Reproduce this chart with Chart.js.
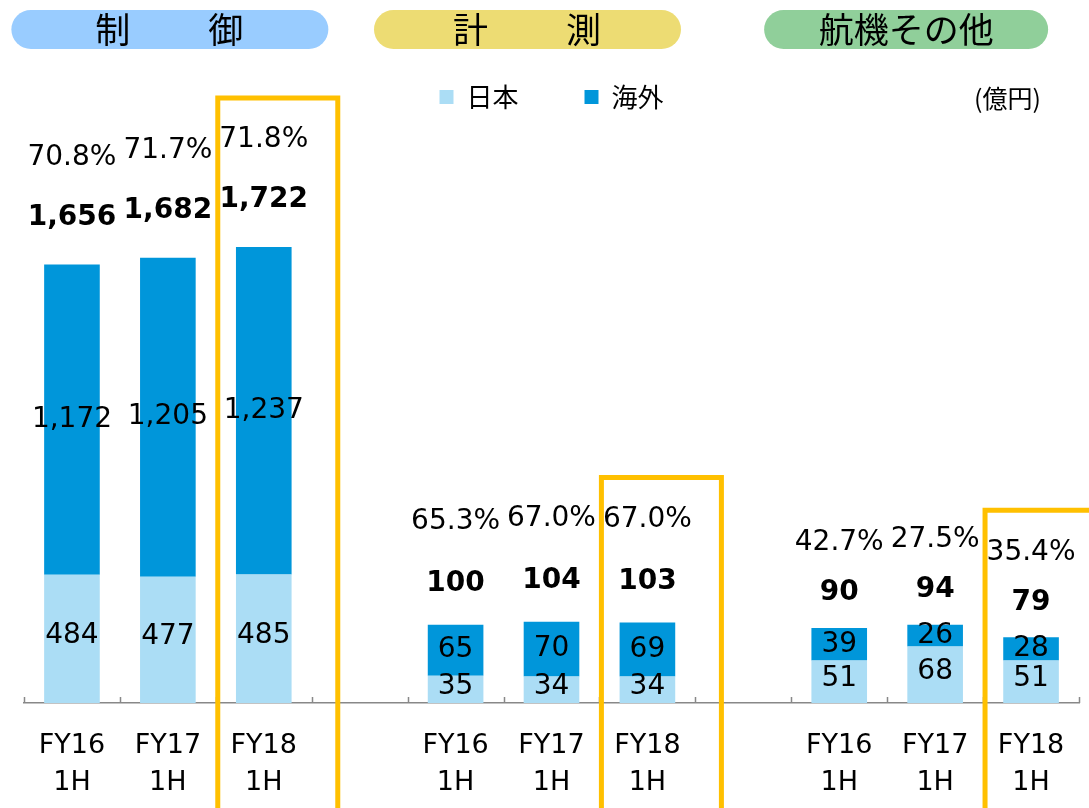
<!DOCTYPE html>
<html>
<head>
<meta charset="utf-8">
<script src="https://cdn.jsdelivr.net/npm/chart.js@4"></script>
<style>
  html, body { margin: 0; padding: 0; background: #fff; }
  #wrap { width: 1089px; height: 808px; }
</style>
</head>
<body>
<div id="wrap"><canvas id="salesChart"></canvas></div>
<script>
// segments and periods
var segmentNames = ['制御', '計測', '航機その他'];
var periodLabels = [['FY16', '1H'], ['FY17', '1H'], ['FY18', '1H']];

// 制御
var japanCtrl = [484, 477, 485];
var overseasCtrl = [1172, 1205, 1237];
var ratioCtrl = [70.8, 71.7, 71.8];
// 計測
var japanMeas = [35, 34, 34];
var overseasMeas = [65, 70, 69];
var ratioMeas = [65.3, 67.0, 67.0];
// 航機その他
var japanAero = [51, 68, 51];
var overseasAero = [39, 26, 28];
var ratioAero = [42.7, 27.5, 35.4];

var japanBySeg = [japanCtrl, japanMeas, japanAero];
var overseasBySeg = [overseasCtrl, overseasMeas, overseasAero];
var ratioBySeg = [ratioCtrl, ratioMeas, ratioAero];
var axisIds = ['yCtrl', 'yMeas', 'yAero'];

var LIGHT = '#ABDDF5';
var DARK = '#0096DA';
var HILITE = '#FFC000';
var AXIS = '#888';
var NUM_FONT = '"DejaVu Sans", Verdana, sans-serif';
var JP_FONT = '"Noto Sans CJK JP", sans-serif';

// 3 bars per segment, one empty slot between segments
var labels = [];
segmentNames.forEach(function (name, g) {
    periodLabels.forEach(function (p) { labels.push(p); });
    if (g < segmentNames.length - 1) labels.push('');
});

function spread(values, g) {
    var out = labels.map(function () { return null; });
    values.forEach(function (v, i) { out[g * 4 + i] = v; });
    return out;
}

function fmt(n) {
    return n.toLocaleString('en-US');
}

var datasets = [];
segmentNames.forEach(function (name, g) {
    datasets.push({
        label: '日本',
        data: spread(japanBySeg[g], g),
        backgroundColor: LIGHT,
        yAxisID: axisIds[g]
    });
    datasets.push({
        label: '海外',
        data: spread(overseasBySeg[g], g),
        backgroundColor: DARK,
        yAxisID: axisIds[g]
    });
});

// label offsets above the bar tops, per segment
var labelGap = [{ total: 47, pct: 60 }, { total: 41, pct: 62 }, { total: 35, pct: 50 }];
var pillStyle = [
    { color: '#99CCFF', shift: 2, width: 317 },
    { color: '#EDDC73', shift: -24, width: 307 },
    { color: '#90CF9A', shift: -29, width: 284 }
];

var annotate = {
    id: 'annotate',
    afterDatasetsDraw: function (chart) {
        var ctx = chart.ctx;
        ctx.save();
        ctx.fillStyle = '#000';
        ctx.textAlign = 'center';
        ctx.textBaseline = 'middle';
        for (var g = 0; g < 3; g++) {
            var lowMeta = chart.getDatasetMeta(g * 2);
            var highMeta = chart.getDatasetMeta(g * 2 + 1);
            for (var i = 0; i < 3; i++) {
                var c = g * 4 + i;
                var low = lowMeta.data[c];
                var high = highMeta.data[c];
                ctx.font = '28px ' + NUM_FONT;
                ctx.fillText(fmt(japanBySeg[g][i]), low.x, (low.y + low.base) / 2 - 3);
                ctx.fillText(fmt(overseasBySeg[g][i]), high.x, (high.y + high.base) / 2);
                var totalY = high.y - labelGap[g].total;
                ctx.font = 'bold 28px ' + NUM_FONT;
                ctx.fillText(fmt(japanBySeg[g][i] + overseasBySeg[g][i]), high.x, totalY);
                ctx.font = '28px ' + NUM_FONT;
                ctx.fillText(ratioBySeg[g][i].toFixed(1) + '%', high.x, totalY - labelGap[g].pct);
            }
        }
        ctx.restore();
    },
    afterDraw: function (chart) {
        var ctx = chart.ctx;
        var x = chart.scales.x;
        var area = chart.chartArea;
        ctx.save();
        // small upward tick marks between categories
        var step = (area.right - area.left) / labels.length;
        ctx.strokeStyle = AXIS;
        ctx.lineWidth = 1.5;
        ctx.beginPath();
        for (var k = 0; k <= labels.length; k++) {
            var tx = Math.round(area.left + k * step) + 0.5;
            ctx.moveTo(tx, area.bottom);
            ctx.lineTo(tx, area.bottom - 6);
        }
        ctx.stroke();
        // segment title pills
        for (var g = 0; g < 3; g++) {
            var cx = (x.getPixelForValue(g * 4) + x.getPixelForValue(g * 4 + 2)) / 2 + pillStyle[g].shift;
            var w = pillStyle[g].width;
            ctx.fillStyle = pillStyle[g].color;
            ctx.beginPath();
            ctx.roundRect(cx - w / 2, 10, w, 39, 19.5);
            ctx.fill();
            ctx.fillStyle = '#000';
            ctx.textAlign = 'center';
            ctx.textBaseline = 'middle';
            ctx.font = '35px ' + JP_FONT;
            var name = segmentNames[g];
            if (name.length === 2) {
                ctx.fillText(name[0], cx - 57, 30);
                ctx.fillText(name[1], cx + 56, 30);
            } else {
                ctx.fillText(name, cx, 30);
            }
        }
        // unit
        ctx.font = '25px ' + JP_FONT;
        ctx.textAlign = 'right';
        ctx.fillText('(億円)', 1041, 98);
        // highlight latest period
        ctx.strokeStyle = HILITE;
        ctx.lineWidth = 5;
        for (var s = 0; s < 3; s++) {
            var bar = chart.getDatasetMeta(s * 2 + 1).data[s * 4 + 2];
            var top = bar.y - labelGap[s].total - labelGap[s].pct - 42;
            ctx.beginPath();
            ctx.moveTo(bar.x - 46, chart.height + 10);
            ctx.lineTo(bar.x - 46, top);
            ctx.lineTo(bar.x + 74, top);
            ctx.lineTo(bar.x + 74, chart.height + 10);
            ctx.stroke();
        }
        ctx.restore();
    }
};

function hiddenAxis(max) {
    return { display: false, stacked: true, min: 0, max: max };
}

var ctx = document.getElementById('salesChart').getContext('2d');
var salesChart = new Chart(ctx, {
    type: 'bar',
    data: { labels: labels, datasets: datasets },
    options: {
        responsive: true,
        maintainAspectRatio: false,
        animation: false,
        categoryPercentage: 1,
        barPercentage: 0.58,
        layout: { padding: { top: 18, left: 24, right: 10, bottom: -17 } },
        plugins: {
            legend: {
                position: 'top',
                labels: {
                    color: '#000',
                    font: { family: JP_FONT, size: 26 },
                    boxWidth: 14,
                    boxHeight: 14,
                    padding: 66,
                    filter: function (item) { return item.datasetIndex < 2; }
                }
            },
            tooltip: { enabled: false }
        },
        scales: {
            x: {
                stacked: true,
                grid: { display: false, drawTicks: false },
                border: { display: true, color: AXIS, width: 1.5 },
                ticks: {
                    color: '#000',
                    padding: 24,
                    font: { family: NUM_FONT, size: 27, lineHeight: 1.37 }
                }
            },
            yCtrl: hiddenAxis(2202),
            yMeas: hiddenAxis(745),
            yAero: hiddenAxis(700)
        }
    },
    plugins: [annotate]
});
</script>
</body>
</html>
